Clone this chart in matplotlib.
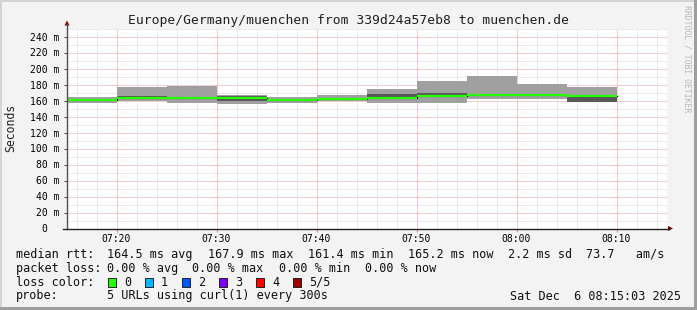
import numpy as np
import matplotlib
matplotlib.use('Agg')
import matplotlib.pyplot as plt
from matplotlib.patches import Rectangle, Polygon
from matplotlib.lines import Line2D

plt.rcParams['font.family'] = 'DejaVu Sans Mono'

# ---------------- data ----------------
slot_start = ["07:15", "07:20", "07:25", "07:30", "07:35", "07:40",
              "07:45", "07:50", "07:55", "08:00", "08:05"]
smoke_min = [157.5, 160.0, 157.0, 155.4, 156.6, 159.0, 157.0, 157.0, 162.0, 162.0, 158.7]
smoke_max = [164.0, 176.6, 178.3, 166.6, 164.0, 166.6, 174.6, 184.0, 190.4, 180.4, 177.0]
inner_lo = [159.5, 162.5, 162.0, 159.5, 159.5, 160.5, 162.8, 166.5, 165.5, 165.5, 158.7]
inner_hi = [161.5, 166.0, 165.0, 165.5, 161.5, 162.5, 168.0, 169.5, 167.5, 167.5, 164.5]
median = [161.0, 163.6, 163.3, 163.0, 160.8, 161.8, 163.2, 165.8, 167.0, 166.8, 165.2]

tick_times = ["07:20", "07:30", "07:40", "07:50", "08:00", "08:10"]
y_ticks = [0, 20, 40, 60, 80, 100, 120, 140, 160, 180, 200, 220, 240]

loss_labels = ["0", "1", "2", "3", "4", "5/5"]
loss_colors = ["#26ff00", "#00b8ff", "#0059ff", "#7e00ff", "#ff0000", "#a10000"]

title = "Europe/Germany/muenchen from 339d24a57eb8 to muenchen.de"
stamp = "Sat Dec  6 08:15:03 2025"

def to_min(s):
    h, m = s.split(":")
    return (int(h) - 7) * 60 + int(m)

W, H = 697, 310

def px(x, y):
    return (x / W, 1 - y / H)

# ---------------- figure ----------------
fig = plt.figure(figsize=(W / 100, H / 100), dpi=100, facecolor='#f3f3f3')

# 3d frame
fig.patches.append(Rectangle((0, 1 - 2 / H), 1, 2 / H, transform=fig.transFigure, color='#d4d4d4', lw=0))
fig.patches.append(Rectangle((0, 0), 2 / W, 1, transform=fig.transFigure, color='#d4d4d4', lw=0))
fig.patches.append(Rectangle((0, 0), 1, 3 / H, transform=fig.transFigure, color='#9e9e9e', lw=0))
fig.patches.append(Rectangle((1 - 3 / W, 0), 3 / W, 1, transform=fig.transFigure, color='#9e9e9e', lw=0))

x0, x1 = 67, 667
ytop, ybot = 28.5, 228.5
ax = fig.add_axes([x0 / W, (H - ybot) / H, (x1 - x0) / W, (ybot - ytop) / H])
ax.set_facecolor('white')

t0 = 15 + 3 / 60
ax.set_xlim(t0, t0 + 60)
ax.set_ylim(0, 250)

# grid (1px dotted)
dots = (0, (1, 1))
for v in np.arange(10, 251, 10):
    c = '#e69c9c' if v % 20 == 0 else '#d6d6d6'
    ax.axhline(v, color=c, lw=0.72, ls=dots, zorder=1)
for m in np.arange(16, 76, 2):
    c = '#e69c9c' if m % 10 == 0 else '#d6d6d6'
    ax.axvline(m, color=c, lw=0.72, ls=dots, zorder=1)

# smoke
starts = np.array([to_min(s) for s in slot_start], dtype=float)
lo = np.array(smoke_min)
hi = np.array(smoke_max)
ilo = np.array(inner_lo)
ihi = np.array(inner_hi)
med = np.array(median)
ax.bar(starts, hi - lo, bottom=lo, width=5, align='edge', color='#a0a0a0', lw=0, zorder=2)
ax.bar(starts, ihi - ilo, bottom=ilo, width=5, align='edge', color='#585858', lw=0, zorder=3)

# median: black transitions, green level
ax.step(np.append(starts, starts[-1] + 5), np.append(med, med[-1]), where='post',
        color='black', lw=0.8, zorder=4)
ax.hlines(med, starts, starts + 5, color=loss_colors[0], lw=1.6, zorder=5)

# ticks
for s in ax.spines.values():
    s.set_visible(False)
ax.set_xticks([to_min(t) for t in tick_times])
ax.set_xticklabels(tick_times, fontsize=7)
ax.set_yticks(y_ticks)
ax.set_yticklabels([f"{v} m" if v else "0  " for v in y_ticks], fontsize=7)
ax.tick_params(axis='x', length=2, width=0.7, color='#d08080', pad=2.2)
ax.tick_params(axis='y', length=2, width=0.7, color='#404040', pad=3.6)

# axes lines + arrows
fig.add_artist(Line2D([px(x0, 0)[0]] * 2, [px(0, ybot + 0.5)[1], px(0, 24)[1]],
                      transform=fig.transFigure, color='#505050', lw=1))
fig.add_artist(Line2D([px(63, 0)[0], px(669, 0)[0]], [px(0, ybot)[1]] * 2,
                      transform=fig.transFigure, color='#202020', lw=1))
fig.add_artist(Polygon([px(64.5, 25.5), px(69.5, 25.5), px(67, 20.5)], closed=True,
                       transform=fig.transFigure, color='#7f0000', lw=0))
fig.add_artist(Polygon([px(668, 226), px(668, 231), px(673, ybot)], closed=True,
                       transform=fig.transFigure, color='#7f0000', lw=0))

# texts
fig.text(*px(348, 23.8), title, ha='center', va='baseline', fontsize=9.4, color='#202020')
fig.text(*px(10.5, 128), "Seconds", ha='center', va='center', rotation=90, fontsize=8.3, color='#202020')
fig.text(*px(687, 5), "RRDTOOL / TOBI OETIKER", ha='center', va='top', rotation=270,
         fontsize=5.9, color='#b8b8b8')

fs = 8.5
base = [257.8, 271.7, 285.6, 299.5]
row1 = [(16, "median rtt:"), (107.3, "164.5 ms avg"), (207.5, "167.9 ms max"),
        (307.8, "161.4 ms min"), (408, "165.2 ms now"), (508.2, "2.2 ms sd"),
        (585.7, "73.7   am/s")]
row2 = [(16, "packet loss:"), (107.3, "0.00 % avg"), (192.4, "0.00 % max"),
        (279.3, "0.00 % min"), (364.8, "0.00 % now")]
for x, s in row1:
    fig.text(*px(x, base[0]), s, ha='left', va='baseline', fontsize=fs, color='#101010')
for x, s in row2:
    fig.text(*px(x, base[1]), s, ha='left', va='baseline', fontsize=fs, color='#101010')

fig.text(*px(16, base[2]), "loss color:", ha='left', va='baseline', fontsize=fs, color='#101010')
sq_x = 108.3
for lab, col in zip(loss_labels, loss_colors):
    fig.patches.append(Rectangle(px(sq_x, 286.7), 7.4 / W, 8.4 / H, transform=fig.transFigure,
                                 facecolor=col, edgecolor='#202020', lw=0.7))
    fig.text(*px(sq_x + 15.7, base[2]), lab, ha='left', va='baseline', fontsize=fs, color='#101010')
    sq_x += 37

fig.text(*px(16, base[3]), "probe:", ha='left', va='baseline', fontsize=fs, color='#101010')
fig.text(*px(107.3, base[3]), "5 URLs using curl(1) every 300s", ha='left', va='baseline',
         fontsize=fs, color='#101010')
fig.text(*px(680.5, base[3]), stamp, ha='right', va='baseline', fontsize=fs, color='#101010')

fig.savefig("out.png", dpi=100, facecolor=fig.get_facecolor())
